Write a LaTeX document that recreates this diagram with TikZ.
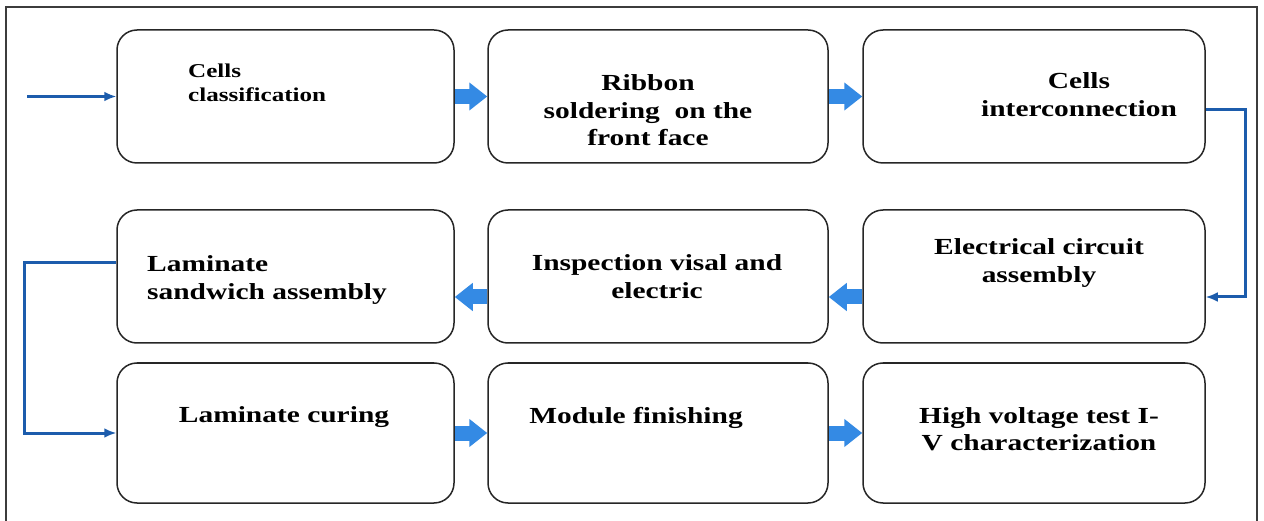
\documentclass[tikz,border=0pt]{standalone}
\usepackage{fontspec}
\newfontfamily\lblfont{Liberation Serif}[FakeStretch=1.28]
\usetikzlibrary{arrows.meta}
\definecolor{fatblue}{RGB}{52,138,228}
\definecolor{thinblue}{RGB}{28,92,172}
\definecolor{framegray}{RGB}{60,60,60}
\tikzset{
  stepbox/.style={draw=black!85, line width=1.5pt, rounded corners=20pt, inner sep=0pt, fill=white},
  boxA/.style={stepbox, minimum width=337pt, minimum height=133pt},
  boxB/.style={stepbox, minimum width=340pt, minimum height=133pt},
  boxC/.style={stepbox, minimum width=342pt, minimum height=133pt},
  boxA3/.style={stepbox, minimum width=337pt, minimum height=140pt},
  boxB3/.style={stepbox, minimum width=340pt, minimum height=140pt},
  boxC3/.style={stepbox, minimum width=342pt, minimum height=140pt},
  lbl/.style={anchor=base, inner sep=0pt, font=\lblfont\bfseries\fontsize{23}{27.5}\selectfont},
  lblsmall/.style={anchor=base west, inner sep=0pt, font=\lblfont\bfseries\fontsize{19.6}{24}\selectfont},
  fatarrow/.style={draw=fatblue, line width=15pt, -{Triangle[width=27pt,length=18pt]}, fatblue},
  thinarrow/.style={draw=thinblue, line width=3pt, -{Latex[length=12pt,width=10pt]}},
}
\begin{document}
\begin{tikzpicture}[x=1pt,y=-1pt]
\useasboundingbox (0,0) rectangle (1264,521);
\fill[white] (0,0) rectangle (1264,521);
% frame
\draw[framegray, line width=2pt] (6,521) -- (6,7) -- (1257,7) -- (1257,521);

% boxes
\node[boxA] (b1) at (285.5,96.5) {};
\node[boxB] (b2) at (658,96.5) {};
\node[boxC] (b3) at (1034,96.5) {};
\node[boxC] (b4) at (1034,276.5) {};
\node[boxB] (b5) at (658,276.5) {};
\node[boxA] (b6) at (285.5,276.5) {};
\node[boxA3] (b7) at (285.5,433) {};
\node[boxB3] (b8) at (658,433) {};
\node[boxC3] (b9) at (1034,433) {};

% texts
\node[lblsmall] (t1) at (188,78) {\begin{tabular}[t]{@{}l@{}}Cells\\classification\end{tabular}};
\node[lbl] (t2) at (648,91) {\begin{tabular}[t]{@{}c@{}}Ribbon\\soldering\ \ on the\\front face\end{tabular}};
\node[lbl] (t3) at (1079,89) {\begin{tabular}[t]{@{}c@{}}Cells\\interconnection\end{tabular}};
\node[lbl] (t4) at (1039,255) {\begin{tabular}[t]{@{}c@{}}Electrical circuit\\assembly\end{tabular}};
\node[lbl] (t5) at (657,271) {\begin{tabular}[t]{@{}c@{}}Inspection visal and\\electric\end{tabular}};
\node[lbl, anchor=base west] (t6) at (147,272) {\begin{tabular}[t]{@{}l@{}}Laminate\\sandwich assembly\end{tabular}};
\node[lbl] (t7) at (284,422) {Laminate curing};
\node[lbl] (t8) at (636,423) {Module finishing};
\node[lbl] (t9) at (1039,423) {\begin{tabular}[t]{@{}c@{}}High voltage test I-\\V characterization\end{tabular}};

% fat arrows
\draw[fatarrow] (b1.east) -- (b2.west);
\draw[fatarrow] (b2.east) -- (b3.west);
\draw[fatarrow] ([yshift=-20.5pt]b4.west) -- ([yshift=-20.5pt]b5.east);
\draw[fatarrow] ([yshift=-20.5pt]b5.west) -- ([yshift=-20.5pt]b6.east);
\draw[fatarrow] (b7.east) -- (b8.west);
\draw[fatarrow] (b8.east) -- (b9.west);

% thin connectors
\coordinate (start) at (27,96.5);
\draw[thinarrow] (start) -- (b1.west);
\coordinate (rx) at (1245,0);
\draw[thinarrow] ([yshift=-13.5pt]b3.east) -| ([yshift=-20.5pt]b4.east -| rx) -- ([yshift=-20.5pt]b4.east);
\coordinate (lx) at (24,0);
\draw[thinarrow] ([yshift=13.5pt]b6.west) -| (b7.west -| lx) -- (b7.west);
\end{tikzpicture}
\end{document}
